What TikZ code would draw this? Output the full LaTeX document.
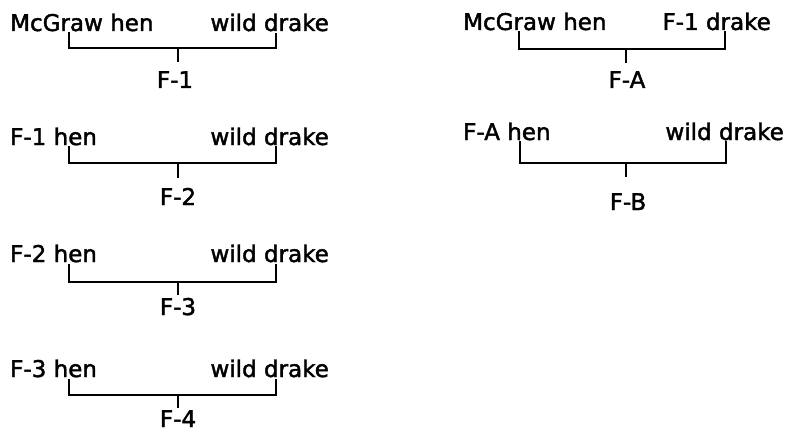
\documentclass[tikz,border=0pt]{standalone}
\usepackage{fontspec}
\setmainfont{DejaVu Sans}[FakeBold=1.8]
\begin{document}
\begin{tikzpicture}[x=1pt,y=1pt,
  txt/.style={inner sep=0pt, font=\fontsize{23}{27}\selectfont},
  lbl/.style={txt, anchor=base},
  link/.style={line width=2.7pt}]
\useasboundingbox (0,0) rectangle (789,-433);
% ---------- left column ----------
% row 1
\node[txt,anchor=base west] (h1) at (10,-31) {McGraw hen};
\node[txt,anchor=base east] (d1) at (329,-31) {wild drake};
\node[lbl] (g1) at (175,-88) {F-1};
\coordinate (h1a) at (69,-32);
\coordinate (d1a) at (276,-33);
\coordinate (j1) at (178,-48);
\coordinate (t1) at (178,-62);
\draw[link] (h1a) |- (j1) -| (d1a);
\draw[link] (j1) -- (t1);
% row 2
\node[txt,anchor=base west] (h2) at (10,-145) {F-1 hen};
\node[txt,anchor=base east] (d2) at (329,-145) {wild drake};
\node[lbl] (g2) at (178,-205) {F-2};
\coordinate (h2a) at (69,-146);
\coordinate (d2a) at (276,-146);
\coordinate (j2) at (178,-163);
\coordinate (t2) at (178,-178);
\draw[link] (h2a) |- (j2) -| (d2a);
\draw[link] (j2) -- (t2);
% row 3
\node[txt,anchor=base west] (h3) at (10,-262) {F-2 hen};
\node[txt,anchor=base east] (d3) at (329,-262) {wild drake};
\node[lbl] (g3) at (178,-315) {F-3};
\coordinate (h3a) at (69,-264);
\coordinate (d3a) at (276,-264);
\coordinate (j3) at (178,-282);
\coordinate (t3) at (178,-295);
\draw[link] (h3a) |- (j3) -| (d3a);
\draw[link] (j3) -- (t3);
% row 4
\node[txt,anchor=base west] (h4) at (10,-377) {F-3 hen};
\node[txt,anchor=base east] (d4) at (329,-377) {wild drake};
\node[lbl] (g4) at (178,-427) {F-4};
\coordinate (h4a) at (69,-379);
\coordinate (d4a) at (276,-379);
\coordinate (j4) at (178,-395);
\coordinate (t4) at (178,-408);
\draw[link] (h4a) |- (j4) -| (d4a);
\draw[link] (j4) -- (t4);
% ---------- right column ----------
% row 1
\node[txt,anchor=base west] (h5) at (463,-30) {McGraw hen};
\node[txt,anchor=base east] (d5) at (771,-30) {F-1 drake};
\node[lbl] (g5) at (627,-88) {F-A};
\coordinate (h5a) at (519,-31);
\coordinate (d5a) at (725,-31);
\coordinate (j5) at (626,-49);
\coordinate (t5) at (626,-63);
\draw[link] (h5a) |- (j5) -| (d5a);
\draw[link] (j5) -- (t5);
% row 2
\node[txt,anchor=base west] (h6) at (463,-140) {F-A hen};
\node[txt,anchor=base east] (d6) at (784,-140) {wild drake};
\node[lbl] (g6) at (628,-210) {F-B};
\coordinate (h6a) at (520,-141);
\coordinate (d6a) at (726,-141);
\coordinate (j6) at (626,-163);
\coordinate (t6) at (626,-177);
\draw[link] (h6a) |- (j6) -| (d6a);
\draw[link] (j6) -- (t6);
\end{tikzpicture}
\end{document}
